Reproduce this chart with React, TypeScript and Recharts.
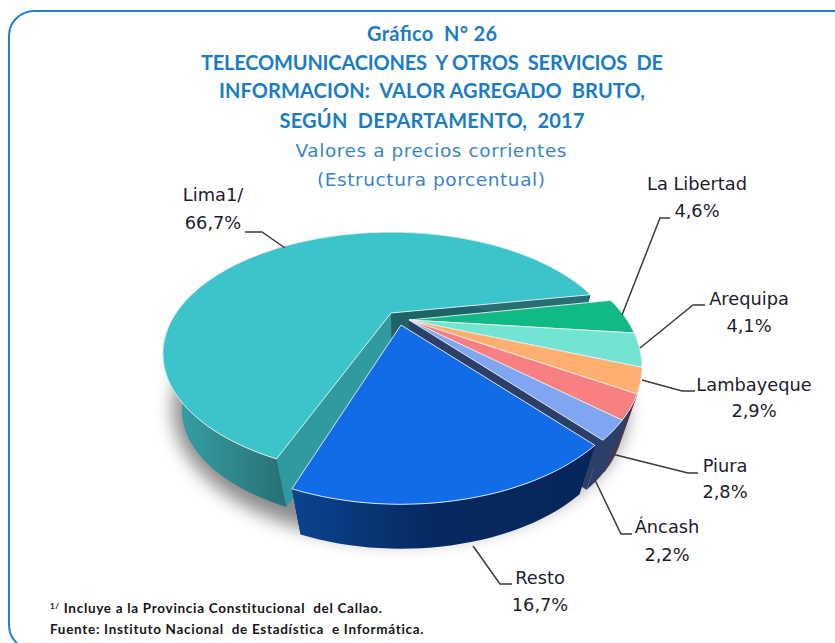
import React from 'react';
import { PieChart, Pie, Cell } from 'recharts';

const departments = ['Lima1/', 'La Libertad', 'Arequipa', 'Lambayeque', 'Piura', 'Áncash', 'Resto'];
const shares = [66.7, 4.6, 4.1, 2.9, 2.8, 2.2, 16.7];
const shareLabels = ['66,7%', '4,6%', '4,1%', '2,9%', '2,8%', '2,2%', '16,7%'];
const topColors = ['#3BC5CB', '#10B985', '#72E5D2', '#FFB070', '#F88080', '#7FA6F2', '#116CE8'];
const titleLines = [
  'Gráfico  N° 26',
  'TELECOMUNICACIONES  Y OTROS  SERVICIOS  DE',
  'INFORMACION:  VALOR AGREGADO  BRUTO,',
  'SEGÚN  DEPARTAMENTO,  2017',
];
const subtitleLines = ['Valores a precios corrientes', '(Estructura porcentual)'];

// styling / layout
const K = 0.92;
const VX = 400;
const VY = 1060;
const explode: [number, number][] = [[-6, -5], [12, 2], [12, 2], [12, 2], [12, 2], [12, 2], [4, 7]];
const perspective = [0.335, 0.353, 0.353, 0.353, 0.353, 0.353, 0.353];
const flatness = [0.502, 0.532, 0.532, 0.532, 0.532, 0.532, 0.532];
const radiusScale = [0.986, 1, 1, 1, 1, 1, 1];
const startTrim = [2, 0, 0, 0, 0, 0, 0];
const wallStops = [
  [['0', '#37A3A8'], ['1', '#276F73']],
  [['0', '#0A6E50'], ['1', '#0A6E50']],
  [['0', '#3F8A7E'], ['1', '#3F8A7E']],
  [['0', '#2C3F68'], ['1', '#2C3F68']],
  [['0', '#2C3F68'], ['1', '#2C3F68']],
  [['0', '#2C3F68'], ['1', '#2C3F68']],
  [['0', '#0B4490'], ['0.45', '#062A60'], ['1', '#05265A']],
];
const startWall = ['#2F9AA0', '#0A6E50', '#3F8A7E', '#2C3F68', '#2C3F68', '#2C3F68', '#062A60'];
const endWall = ['#1C6468', '#0A6E50', '#3F8A7E', '#8A5F3C', '#7A2E2E', '#2C3F68', '#062A60'];
const wallEdge = ['none', 'none', 'none', 'none', '#7A2E2E', 'none', 'none'];
const labelLayout = [
  { x: 213, y1: 201, y2: 229, line: [[245, 232], [262, 232], [285, 248]] },
  { x: 697, y1: 190, y2: 217, line: [[670, 218], [660, 218], [622, 315]] },
  { x: 749, y1: 305, y2: 332, line: [[705, 305], [693, 305], [640, 348]] },
  { x: 754, y1: 391, y2: 417, line: [[695, 391], [682, 391], [642, 380]] },
  { x: 725, y1: 472, y2: 498, line: [[698, 473], [688, 473], [612, 454]] },
  { x: 667, y1: 533, y2: 561, line: [[632, 534], [621, 534], [594, 478]] },
  { x: 540, y1: 584, y2: 611, line: [[512, 584], [500, 584], [473, 546]] },
];
const titleWidths = [130, 462, 426, 305];
const subtitleWidths = [271, 228];
const titleY = [41, 70, 98, 128];
const subY = [157, 186];

const tableData = departments.map((name, i) => ({ name, value: shares[i] }));

function Slice3D(props: any) {
  const { cx, cy, outerRadius, startAngle, endAngle, index } = props;
  const R = outerRadius * radiusScale[index];
  const S = R * flatness[index];
  const PERSP = perspective[index];
  const [ox, oy] = explode[index];
  const proj = (a: number, r = 1): [number, number] => {
    const t = (a * Math.PI) / 180;
    const u = r * Math.cos(t);
    const v = -r * Math.sin(t);
    const w = 1 - PERSP * v;
    return [cx + ox + (R * u) / w, cy + oy + (S * v) / w];
  };
  const low = (p: [number, number]): [number, number] => [VX + K * (p[0] - VX), VY + K * (p[1] - VY)];
  const a0 = startAngle - startTrim[index];
  const n = Math.max(4, Math.ceil(Math.abs(endAngle - a0) / 2));
  const arc: [number, number][] = [];
  for (let i = 0; i <= n; i++) arc.push(proj(a0 + ((endAngle - a0) * i) / n));
  const apex = proj(0, 0);
  const d = (pts: [number, number][]) => 'M' + pts.map((p) => p[0].toFixed(1) + ' ' + p[1].toFixed(1)).join('L') + 'Z';
  const xs = arc.map((p) => p[0]);
  const gid = 'wall' + index;

  let shadow = null;
  if (index === 0) {
    const ring: [number, number][] = [];
    for (let a = 0; a < 360; a += 3) {
      const t = (a * Math.PI) / 180;
      const u = Math.cos(t);
      const v = -Math.sin(t);
      const w = 1 - 0.353 * v;
      const x = cx + 3 + (outerRadius * u) / w;
      const y = cy + 4 + (outerRadius * 0.532 * v) / w;
      ring.push([VX + 0.975 * (x - VX), y + 40]);
    }
    shadow = (
      <g>
        <defs>
          <filter id="discShadow" x="-20%" y="-20%" width="140%" height="140%">
            <feGaussianBlur stdDeviation="9" />
          </filter>
        </defs>
        <path d={d(ring)} fill="#000" opacity={0.45} filter="url(#discShadow)" />
      </g>
    );
  }

  return (
    <g>
      {shadow}
      <defs>
        <linearGradient
          id={gid}
          gradientUnits="userSpaceOnUse"
          x1={index === 0 ? 170 : Math.min(...xs)}
          x2={index === 0 ? 288 : Math.max(...xs)}
          y1={0}
          y2={0}
        >
          {wallStops[index].map((s) => (
            <stop key={s[0]} offset={s[0]} stopColor={s[1]} />
          ))}
        </linearGradient>
      </defs>
      <path d={d([apex, arc[0], low(arc[0]), low(apex)])} fill={startWall[index]} />
      <path d={d([apex, arc[n], low(arc[n]), low(apex)])} fill={endWall[index]} />
      <path d={d([...arc, ...arc.map(low).reverse()])} fill={`url(#${gid})`} stroke={wallEdge[index]} strokeWidth={1} />
      <path d={d([apex, ...arc])} fill={topColors[index]} stroke="#F2F2F2" strokeWidth={0.9} strokeLinejoin="round" />
    </g>
  );
}

function SliceLabel(props: any) {
  const i = props.index;
  const l = labelLayout[i];
  const font = { fontFamily: '"DejaVu Sans", sans-serif', fontSize: 17.8, fill: '#1c1c2e' };
  return (
    <g>
      <polyline
        points={l.line.map((p) => p.join(',')).join(' ')}
        fill="none"
        stroke="#3a3a3a"
        strokeWidth={1.5}
      />
      <text x={l.x} y={l.y1} textAnchor="middle" {...font}>{departments[i]}</text>
      <text x={l.x} y={l.y2} textAnchor="middle" {...font}>{shareLabels[i]}</text>
    </g>
  );
}

export default function App() {
  const note = { whiteSpace: 'pre', fontFamily: 'Lato, sans-serif', fontWeight: 700, fontSize: 13.5, letterSpacing: 0.7, fill: '#151515' } as any;
  return (
    <div style={{ position: 'absolute', left: 0, top: 0, width: 835, height: 643, background: '#fff', overflow: 'hidden' }}>
      <div
        style={{
          position: 'absolute',
          left: 8,
          top: 10,
          width: 860,
          height: 641,
          border: '2px solid #1F80D0',
          borderRadius: 26,
          boxSizing: 'border-box',
        }}
      />
      <div style={{ position: 'absolute', left: 0, top: 0 }}>
        <PieChart width={835} height={643} margin={{ top: 0, right: 0, bottom: 0, left: 0 }}>
          <Pie
            data={tableData}
            dataKey="value"
            nameKey="name"
            cx={397}
            cy={318}
            innerRadius={0}
            outerRadius={218}
            startAngle={250.5}
            endAngle={-109.5}
            stroke="none"
            isAnimationActive={false}
            shape={Slice3D}
            label={SliceLabel}
            labelLine={false}
          >
            {tableData.map((e, i) => (
              <Cell key={e.name} fill={topColors[i]} />
            ))}
          </Pie>
        </PieChart>
      </div>
      <svg width={835} height={643} style={{ position: 'absolute', left: 0, top: 0, pointerEvents: 'none' }}>
        {titleLines.map((t, i) => (
          <text
            key={t}
            x={432}
            y={titleY[i]}
            textAnchor="middle"
            textLength={titleWidths[i]}
            lengthAdjust="spacing"
            style={{ whiteSpace: 'pre', fontFamily: 'Lato, sans-serif', fontWeight: 700, fontSize: 20, fill: '#1B7CC4' }}
          >
            {t}
          </text>
        ))}
        {subtitleLines.map((t, i) => (
          <text
            key={t}
            x={431}
            y={subY[i]}
            textAnchor="middle"
            textLength={subtitleWidths[i]}
            lengthAdjust="spacing"
            style={{ fontFamily: '"DejaVu Sans", sans-serif', fontSize: 18.5, fill: '#3A85C8' }}
          >
            {t}
          </text>
        ))}
        <text x={50} y={613} style={note}>
          <tspan fontSize={8} dy={-4}>1/</tspan>
          <tspan dy={4}> Incluye a la Provincia Constitucional  del Callao.</tspan>
        </text>
        <text x={50} y={634} style={note}>
          Fuente: Instituto Nacional  de Estadística  e Informática.
        </text>
      </svg>
    </div>
  );
}
